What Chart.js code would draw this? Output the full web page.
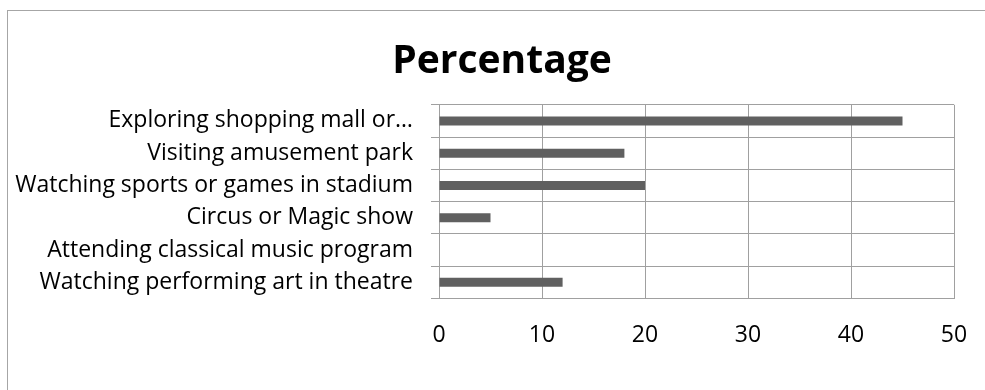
<!DOCTYPE html>
<html>
<head>
<meta charset="utf-8">
<script src="https://cdn.jsdelivr.net/npm/chart.js@4/dist/chart.umd.min.js"></script>
<style>
  html, body { margin: 0; padding: 0; background: #fff; }
  #wrap { position: relative; width: 985px; height: 390px; overflow: hidden; }
  #frame { position: absolute; left: 7px; top: 10px; width: 1200px; height: 600px;
           border-left: 1px solid #a6a6a6; border-top: 1px solid #a6a6a6; pointer-events: none; }
  canvas { position: absolute; left: 0; top: 0; }
</style>
</head>
<body>
<div id="wrap">
  <canvas id="c" width="1004" height="390"></canvas>
  <div id="frame"></div>
</div>
<script>
const activities = [
  'Exploring shopping mall or…',
  'Visiting amusement park',
  'Watching sports or games in stadium',
  'Circus or Magic show',
  'Attending classical music program',
  'Watching performing art in theatre'
];
const percentage = [45, 18, 20, 5, 0, 12];
const xTicks = [0, 10, 20, 30, 40, 50];

const FONT = '"Open Sans", sans-serif';
const GRID = '#a0a0a0';

// Center the title over the whole chart box instead of the padded area.
const fullWidthTitle = {
  id: 'fullWidthTitle',
  afterLayout(chart) {
    const t = chart.titleBlock;
    if (t) { t.left = 0; t.right = chart.width; t.width = chart.width; }
  }
};

new Chart(document.getElementById('c'), {
  type: 'bar',
  data: {
    labels: activities,
    datasets: [{
      label: 'Percentage',
      data: percentage,
      backgroundColor: '#606060',
      borderWidth: 0,
      categoryPercentage: 1,
      barPercentage: 0.28
    }]
  },
  options: {
    indexAxis: 'y',
    responsive: false,
    animation: false,
    layout: { padding: { left: 0, right: 50, top: 0, bottom: 18 } },
    plugins: {
      legend: { display: false },
      tooltip: { enabled: false },
      title: {
        display: true,
        text: 'Percentage',
        color: '#000',
        font: { family: FONT, size: 39, weight: 'bold' },
        padding: { top: 38, bottom: 20 }
      }
    },
    scales: {
      x: {
        min: xTicks[0],
        max: xTicks[xTicks.length - 1],
        afterBuildTicks: (axis) => { axis.ticks = xTicks.map(v => ({ value: v })); },
        grid: { color: GRID, lineWidth: 1, drawTicks: false },
        border: { color: GRID },
        ticks: { color: '#000', font: { family: FONT, size: 23 }, padding: 23 }
      },
      y: {
        grid: { color: GRID, lineWidth: 1, tickLength: 8, offset: true },
        border: { color: GRID },
        ticks: { color: '#000', font: { family: FONT, size: 23 }, padding: 18 },
        afterFit: (axis) => { axis.width = 439; }
      }
    }
  },
  plugins: [fullWidthTitle]
});
</script>
</body>
</html>
